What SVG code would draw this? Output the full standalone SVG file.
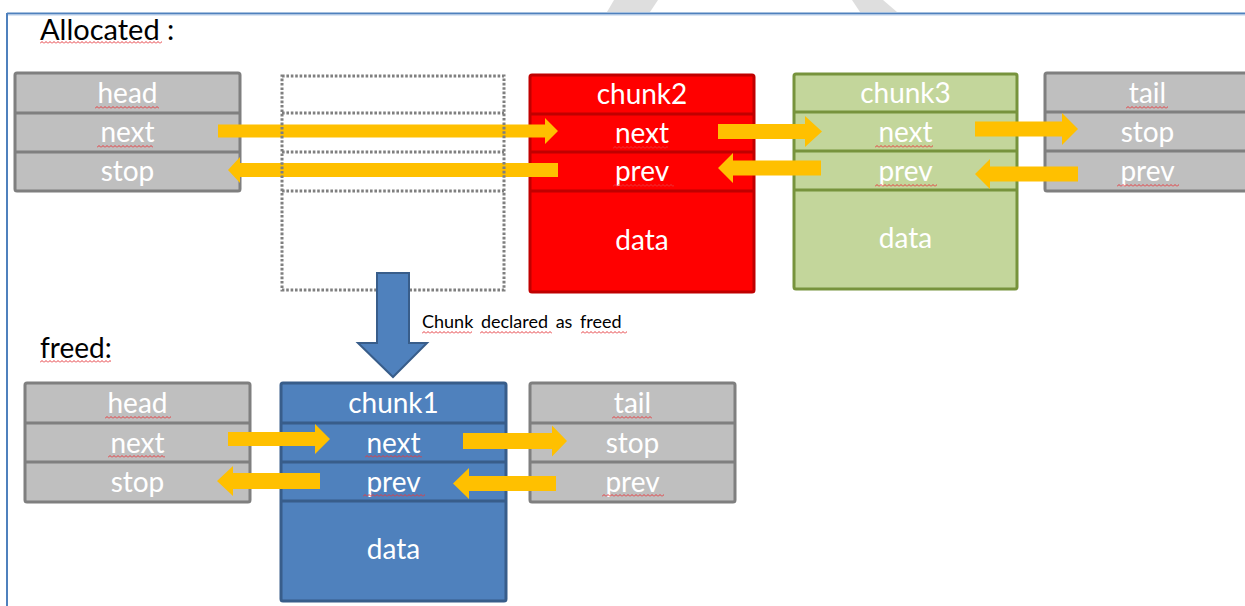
<svg xmlns="http://www.w3.org/2000/svg" width="1245" height="606" viewBox="0 0 1245 606">
  <style>
    .lbl { font-family: Lato, "Noto Sans", sans-serif; fill: #000; }
    .cell { font-family: Lato, "Noto Sans", sans-serif; font-size: 28px; fill: #fff; text-anchor: middle; }
    .box, .sep { stroke-width: 3; }
    .gray .box { fill: #bfbfbf; stroke: #7f7f7f; }
    .gray .sep { stroke: #7f7f7f; }
    .red .box { fill: #ff0000; stroke: #c00000; }
    .red .sep { stroke: #c00000; }
    .green .box { fill: #c3d69b; stroke: #77933c; }
    .green .sep { stroke: #77933c; }
    .blue .box { fill: #4f81bd; stroke: #385d8a; }
    .blue .sep { stroke: #385d8a; }
    .ptr { fill: #ffc000; }
    .dots { fill: none; stroke: #7f7f7f; stroke-width: 3; stroke-dasharray: 2.6 1.8; }
    rect.sq { fill: url(#squiggle); stroke: none; }
  </style>
  <defs>
    <pattern id="squiggle" width="4" height="3" patternUnits="userSpaceOnUse">
      <path d="M0 2.5 L2 0.5 L4 2.5" fill="none" stroke="#e5393d" stroke-width="1"/>
    </pattern>
  </defs>

  <rect width="1245" height="606" fill="#fff"/>

  <!-- background mark fragments at the top edge -->
  <polygon points="614,0 658,0 650,12 607,12" fill="#dedede"/>
  <polygon points="852,0 883,0 897,12 860,12" fill="#dedede"/>

  <!-- page frame -->
  <line x1="7" y1="13.5" x2="1245" y2="13.5" stroke="#4f81bd" stroke-width="2"/>
  <line x1="7" y1="15" x2="1245" y2="15" stroke="#b8cde9" stroke-width="1"/>
  <line x1="7" y1="13" x2="7" y2="606" stroke="#4f81bd" stroke-width="2"/>

  <!-- section titles -->
  <text class="lbl" x="40" y="40" font-size="29">Allocated :</text>
  <rect class="sq" transform="translate(40 41)" width="122" height="3"/>
  <text class="lbl" x="40" y="358" font-size="28">freed:</text>
  <rect class="sq" transform="translate(40 360)" width="71" height="3"/>

  <!-- allocated list: head -->
  <g id="alloc-head" class="gray">
    <rect class="box" x="15" y="73" width="225" height="118" rx="2"/>
    <line class="sep" x1="15" y1="113" x2="240" y2="113"/>
    <line class="sep" x1="15" y1="152" x2="240" y2="152"/>
    <text class="cell" x="127.5" y="103">head</text>
    <text class="cell" x="127.5" y="142">next</text>
    <text class="cell" x="127.5" y="181">stop</text>
    <rect class="sq" transform="translate(95 106)" width="64" height="3"/>
    <rect class="sq" transform="translate(97 145)" width="56" height="3"/>
  </g>

  <!-- allocated list: chunk2 -->
  <g id="chunk2" class="red">
    <rect class="box" x="530" y="75" width="224" height="217" rx="2"/>
    <line class="sep" x1="530" y1="114" x2="754" y2="114"/>
    <line class="sep" x1="530" y1="152" x2="754" y2="152"/>
    <line class="sep" x1="530" y1="191" x2="754" y2="191"/>
    <text class="cell" x="642" y="104">chunk2</text>
    <text class="cell" x="642" y="143">next</text>
    <text class="cell" x="642" y="181">prev</text>
    <text class="cell" x="642" y="250">data</text>
    <rect class="sq" transform="translate(613 146)" width="55" height="3"/>
    <rect class="sq" transform="translate(613 184)" width="61" height="3"/>
  </g>

  <!-- allocated list: chunk3 -->
  <g id="chunk3" class="green">
    <rect class="box" x="794" y="74" width="223" height="215" rx="2"/>
    <line class="sep" x1="794" y1="112" x2="1017" y2="112"/>
    <line class="sep" x1="794" y1="151" x2="1017" y2="151"/>
    <line class="sep" x1="794" y1="190" x2="1017" y2="190"/>
    <text class="cell" x="905.5" y="103">chunk3</text>
    <text class="cell" x="905.5" y="141.5">next</text>
    <text class="cell" x="905.5" y="180.5">prev</text>
    <text class="cell" x="905.5" y="248">data</text>
    <rect class="sq" transform="translate(875 145)" width="58" height="3"/>
    <rect class="sq" transform="translate(875 184)" width="62" height="3"/>
  </g>

  <!-- allocated list: tail -->
  <g id="alloc-tail" class="gray">
    <rect class="box" x="1045" y="73" width="205" height="118" rx="2"/>
    <line class="sep" x1="1045" y1="112" x2="1250" y2="112"/>
    <line class="sep" x1="1045" y1="151" x2="1250" y2="151"/>
    <text class="cell" x="1147.5" y="102.5">tail</text>
    <text class="cell" x="1147.5" y="141.5">stop</text>
    <text class="cell" x="1147.5" y="181">prev</text>
    <rect class="sq" transform="translate(1126 106)" width="42" height="3"/>
    <rect class="sq" transform="translate(1117 184)" width="62" height="3"/>
  </g>

  <!-- freed list: head -->
  <g id="freed-head" class="gray">
    <rect class="box" x="25" y="383" width="225" height="119" rx="2"/>
    <line class="sep" x1="25" y1="423" x2="250" y2="423"/>
    <line class="sep" x1="25" y1="462" x2="250" y2="462"/>
    <text class="cell" x="137.5" y="413">head</text>
    <text class="cell" x="137.5" y="452.5">next</text>
    <text class="cell" x="137.5" y="492">stop</text>
    <rect class="sq" transform="translate(105 416)" width="66" height="3"/>
    <rect class="sq" transform="translate(108 455)" width="57" height="3"/>
  </g>

  <!-- freed list: chunk1 -->
  <g id="chunk1" class="blue">
    <rect class="box" x="281" y="383" width="225" height="218" rx="2"/>
    <line class="sep" x1="281" y1="423" x2="506" y2="423"/>
    <line class="sep" x1="281" y1="462" x2="506" y2="462"/>
    <line class="sep" x1="281" y1="501" x2="506" y2="501"/>
    <text class="cell" x="393.5" y="413">chunk1</text>
    <text class="cell" x="393.5" y="452.5">next</text>
    <text class="cell" x="393.5" y="492">prev</text>
    <text class="cell" x="393.5" y="559">data</text>
    <rect class="sq" transform="translate(365 455)" width="57" height="3"/>
    <rect class="sq" transform="translate(363 494)" width="62" height="3"/>
  </g>

  <!-- freed list: tail -->
  <g id="freed-tail" class="gray">
    <rect class="box" x="530" y="383" width="205" height="119" rx="2"/>
    <line class="sep" x1="530" y1="423" x2="735" y2="423"/>
    <line class="sep" x1="530" y1="462" x2="735" y2="462"/>
    <text class="cell" x="632.5" y="413">tail</text>
    <text class="cell" x="632.5" y="452.5">stop</text>
    <text class="cell" x="632.5" y="492">prev</text>
    <rect class="sq" transform="translate(612 416)" width="40" height="3"/>
    <rect class="sq" transform="translate(602 494)" width="62" height="3"/>
  </g>

  <!-- next / prev pointers -->
  <g id="connectors">
    <polygon class="ptr" points="218,124.5 545,124.5 545,118 558,131 545,144 545,137.5 218,137.5"/>
    <polygon class="ptr" points="558,163 240,163 240,157 228,170 240,183 240,177 558,177"/>
    <polygon class="ptr" points="718,124 805,124 805,116 822,131.5 805,147 805,139 718,139"/>
    <polygon class="ptr" points="821,160.5 733,160.5 733,153 718,168 733,183 733,175.5 821,175.5"/>
    <polygon class="ptr" points="975,121.5 1062,121.5 1062,113 1078,129 1062,145 1062,136.5 975,136.5"/>
    <polygon class="ptr" points="1078,166.5 990,166.5 990,159 975,174 990,189 990,181.5 1078,181.5"/>
    <polygon class="ptr" points="228,432 315,432 315,424 330,439 315,454 315,446 228,446"/>
    <polygon class="ptr" points="320,473 233,473 233,466 217,481 233,496 233,489 320,489"/>
    <polygon class="ptr" points="463,433 552,433 552,425.5 567,441 552,456.5 552,449 463,449"/>
    <polygon class="ptr" points="556,476 469,476 469,468 453,483.5 469,499 469,491 556,491"/>
  </g>

  <!-- released chunk slot (outline only) -->
  <g id="freed-slot">
    <rect class="dots" x="282" y="76" width="222" height="214"/>
    <line class="dots" x1="282" y1="113" x2="504" y2="113"/>
    <line class="dots" x1="282" y1="152" x2="504" y2="152"/>
    <line class="dots" x1="282" y1="191" x2="504" y2="191"/>
  </g>

  <!-- transition: slot becomes chunk1 of the freed list -->
  <g id="free-transition">
    <polygon points="377,273 409,273 409,343 427,343 393,377 358,343 377,343" fill="#4f81bd" stroke="#385d8a" stroke-width="2" stroke-linejoin="miter"/>
    <text class="lbl" x="422" y="328" font-size="18" word-spacing="3">Chunk declared as freed</text>
    <rect class="sq" transform="translate(422 331)" width="50" height="3"/>
    <rect class="sq" transform="translate(480 331)" width="72" height="3"/>
    <rect class="sq" transform="translate(581 331)" width="46" height="3"/>
  </g>
</svg>
